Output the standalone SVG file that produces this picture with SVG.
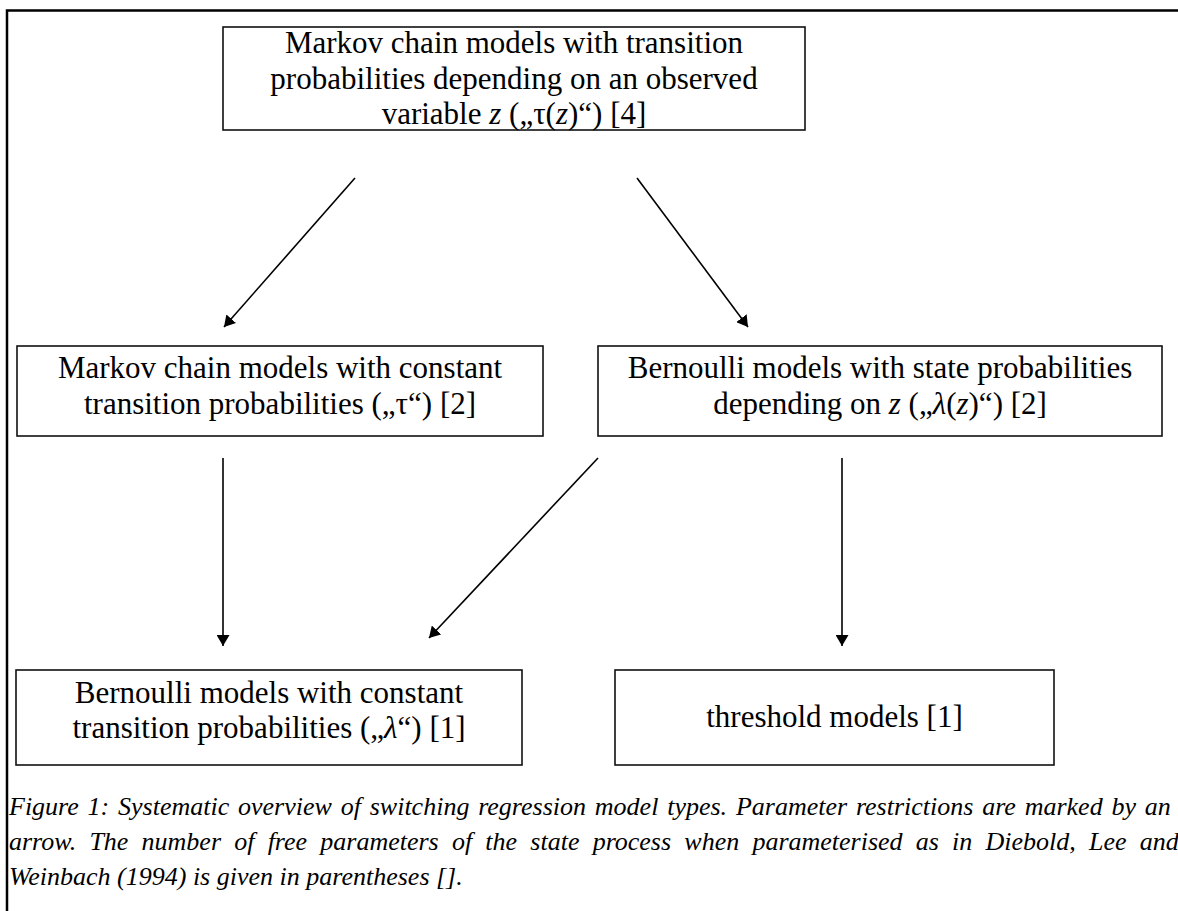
<svg xmlns="http://www.w3.org/2000/svg" width="1178" height="911" viewBox="0 0 1178 911">
<style>
  .box { fill: #ffffff; stroke: #111111; stroke-width: 1.6; }
  .t { font-family: "Liberation Serif", "Times New Roman", serif; font-size: 31px; fill: #000000; text-anchor: middle; }
  .i { font-style: italic; }
  .cap { font-family: "Liberation Serif", "Times New Roman", serif; font-size: 26px; font-style: italic; fill: #000000; }
  .conn line { stroke: #000000; stroke-width: 1.6; marker-end: url(#ah); }
</style>
<defs>
  <marker id="ah" markerUnits="userSpaceOnUse" markerWidth="11" markerHeight="13" viewBox="0 0 11 13" refX="11" refY="6.5" orient="auto">
    <path d="M0,0 L11,6.5 L0,13 Z" fill="#000000"/>
  </marker>
</defs>
<rect x="0" y="0" width="1178" height="911" fill="#ffffff"/>
<path d="M7,911 V10.5 H1178" fill="none" stroke="#000000" stroke-width="2.5"/>

<g id="node-tau-z">
  <rect class="box" x="223" y="27" width="582" height="103"/>
  <text class="t" x="514" y="53">Markov chain models with transition</text>
  <text class="t" x="514" y="88.5">probabilities depending on an observed</text>
  <text class="t" x="514" y="124">variable <tspan class="i">z</tspan> („τ(<tspan class="i">z</tspan>)“) [4]</text>
</g>

<g id="node-tau">
  <rect class="box" x="17" y="346" width="526" height="90"/>
  <text class="t" x="280" y="378">Markov chain models with constant</text>
  <text class="t" x="280" y="414">transition probabilities („τ“) [2]</text>
</g>

<g id="node-lambda-z">
  <rect class="box" x="598" y="346" width="564" height="90"/>
  <text class="t" x="880" y="378">Bernoulli models with state probabilities</text>
  <text class="t" x="880" y="414">depending on <tspan class="i">z</tspan> („<tspan class="i">λ</tspan>(<tspan class="i">z</tspan>)“) [2]</text>
</g>

<g id="node-lambda">
  <rect class="box" x="16" y="670" width="506" height="95"/>
  <text class="t" x="269" y="703">Bernoulli models with constant</text>
  <text class="t" x="269" y="738">transition probabilities („<tspan class="i">λ</tspan>“) [1]</text>
</g>

<g id="node-threshold">
  <rect class="box" x="615" y="670" width="439" height="95"/>
  <text class="t" x="834.5" y="727">threshold models [1]</text>
</g>

<g id="connectors" class="conn">
  <line x1="355" y1="178" x2="224" y2="327"/>
  <line x1="637" y1="178" x2="748" y2="327"/>
  <line x1="223" y1="458" x2="223" y2="646"/>
  <line x1="598" y1="458" x2="429" y2="638"/>
  <line x1="842" y1="458" x2="842" y2="646"/>
</g>

<g id="caption">
  <text class="cap" x="9" y="815" word-spacing="2.3">Figure 1: Systematic overview of switching regression model types. Parameter restrictions are marked by an</text>
  <text class="cap" x="9" y="850" word-spacing="6.7">arrow. The number of free parameters of the state process when parameterised as in Diebold, Lee and</text>
  <text class="cap" x="9" y="885">Weinbach (1994) is given in parentheses [].</text>
</g>
</svg>
